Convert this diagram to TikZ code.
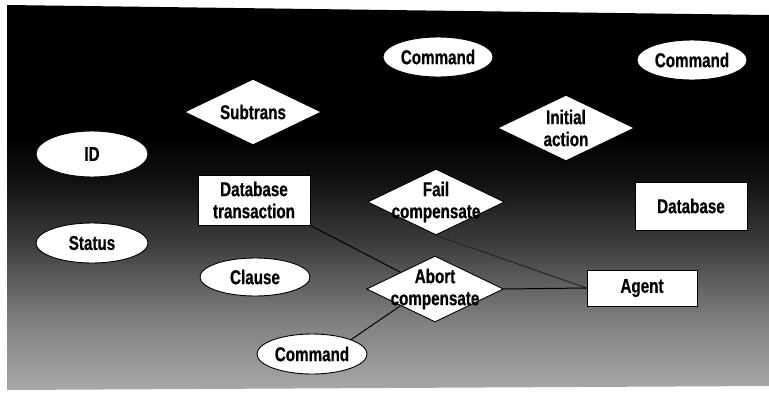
\documentclass[tikz,border=0pt]{standalone}
\usepackage{fontspec}
\setmainfont{Liberation Sans}[FakeStretch=0.76, BoldFeatures={FakeBold=0.6}]
\usetikzlibrary{shapes.geometric}
\pgfdeclareverticalshading{panelshade}{100bp}{color(0bp)=(black!34); color(25bp)=(black!34); color(34bp)=(black!50); color(44bp)=(black!76); color(52bp)=(black!93); color(58bp)=(black); color(100bp)=(black)}
\tikzset{
  lab/.style={font=\bfseries\fontsize{20}{22}\selectfont, align=center, text=black},
  ell/.style={ellipse, draw=black, line width=0.9pt, fill=white, minimum width=110pt, minimum height=40pt, inner sep=0pt, lab},
  box/.style={rectangle, draw=black, line width=0.9pt, fill=white, minimum width=112pt, minimum height=48pt, inner sep=0pt, lab},
  dia/.style={diamond, draw=black, line width=0.9pt, fill=white, minimum width=137pt, minimum height=66pt, inner sep=0pt},
  conn/.style={draw=black, line width=1pt}
}
\begin{document}
\begin{tikzpicture}[x=1pt,y=-1pt]
\useasboundingbox (0,0) rectangle (769,402);
\fill[white] (0,0) rectangle (769,402);
\shade[shading=panelshade] (7,5) -- (769,15) -- (769,386) -- (7,390) -- cycle;
% nodes
\node[ell] (cmdA) at (438,57) {Command};
\node[ell] (cmdB) at (692,60) {Command};
\node[dia] (subtrans) at (253,112) {};
\node[lab] (subtranst) at (subtrans) {Subtrans};
\node[dia] (init) at (566,128) {};
\node[lab] (initt) at (init) {Initial\\action};
\node[ell, minimum width=112pt, minimum height=46pt] (id) at (92,154) {ID};
\node[box, minimum height=50pt] (dbt) at (254,200) {Database\\transaction};
\node[dia] (fail) at (436,202) {};
\node[lab] (failt) at (fail) {Fail\\compensate};
\node[box] (db) at (691,206) {Database};
\node[ell, minimum width=112pt] (status) at (92,243) {Status};
\node[ell, minimum height=38pt] (clause) at (255,277) {Clause};
\node[box, minimum width=110pt, minimum height=36pt] (agent) at (642,288) {Agent};
\node[dia] (abort) at (435,289) {};
\node[lab] (abortt) at (abort) {Abort\\compensate};
\node[ell] (cmdC) at (312,354) {Command};
% connectors
\draw[conn] (dbt.south east) -- (abort.north west);
\draw[conn, draw=black!85] (fail.south) -- (agent.west);
\draw[conn] (abort.east) -- (agent.west);
\draw[conn] (abort.south west) -- (cmdC.north east);
\end{tikzpicture}
\end{document}
